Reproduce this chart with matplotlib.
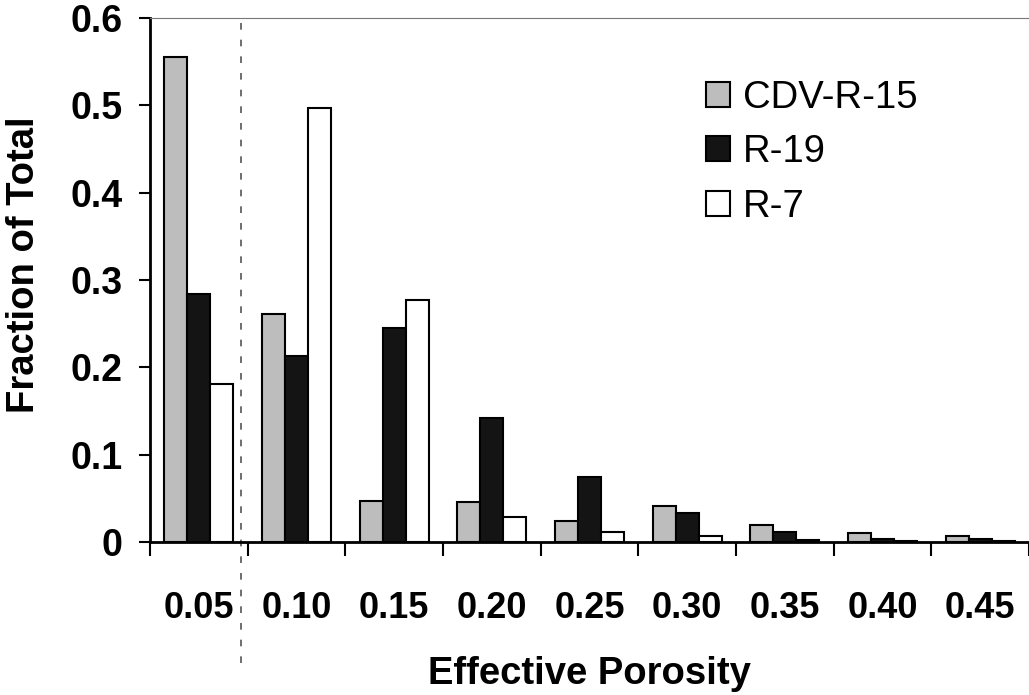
import numpy as np
import matplotlib.pyplot as plt

plt.rcParams['font.family'] = ['Liberation Sans', 'DejaVu Sans']

porosity = ['0.05', '0.10', '0.15', '0.20', '0.25', '0.30', '0.35', '0.40', '0.45']
cdv_r15 = [0.555, 0.261, 0.047, 0.046, 0.024, 0.041, 0.019, 0.010, 0.007]
r19 = [0.284, 0.213, 0.245, 0.142, 0.075, 0.033, 0.011, 0.003, 0.004]
r7 = [0.181, 0.497, 0.277, 0.029, 0.012, 0.007, 0.002, 0.001, 0.001]

series = [('CDV-R-15', cdv_r15, '#bdbdbd'),
          ('R-19', r19, '#141414'),
          ('R-7', r7, 'white')]

fig = plt.figure(figsize=(10.29, 6.95), dpi=100)
ax = fig.add_axes([0.1458, 0.2201, 0.8542, 0.7540])

x = np.arange(len(porosity))
w = 0.235
for i, (name, vals, color) in enumerate(series):
    ax.bar(x + (i - 1) * w, vals, width=w, color=color, edgecolor='black',
           linewidth=1.5, label=name)

ax.set_xlim(-0.5, len(porosity) - 0.5)
ax.set_ylim(0, 0.6)
ax.set_yticks([0, 0.1, 0.2, 0.3, 0.4, 0.5, 0.6])
ax.set_yticklabels(['0', '0.1', '0.2', '0.3', '0.4', '0.5', '0.6'])
ax.set_xticks(x)
ax.set_xticklabels(porosity)
ax.set_xticks(np.arange(len(porosity) + 1) - 0.5, minor=True)
ax.tick_params(axis='x', which='major', length=0, pad=35, labelsize=26)
ax.tick_params(axis='x', which='minor', length=10, width=1.5, direction='out')
ax.tick_params(axis='y', length=8, width=1.5, pad=12, labelsize=27)
for lab in ax.get_xticklabels() + ax.get_yticklabels():
    lab.set_fontweight('bold')

ax.spines['right'].set_visible(False)
ax.spines['top'].set_linestyle((0, (1, 1)))
ax.spines['top'].set_color('#777777')
ax.spines['left'].set_linewidth(2)
ax.spines['bottom'].set_linewidth(2)

ax.set_ylabel('Fraction of Total', fontsize=27.5, fontweight='bold')
ax.yaxis.set_label_coords(-0.123, 0.529)
ax.set_xlabel('Effective Porosity', fontsize=27.5, fontweight='bold', labelpad=22)

# scan fold line
ax.axvline(0.431, ymin=-0.23, ymax=1.0, color='#555555', lw=1.2,
           linestyle=(0, (4, 6)), clip_on=False)

ax.legend(loc='upper left', bbox_to_anchor=(0.6155, 0.911), frameon=False,
          fontsize=27.5, handlelength=0.63, handleheight=0.63, handletextpad=0.34,
          labelspacing=0.48, borderaxespad=0)

fig.savefig('out.png', dpi=100)
